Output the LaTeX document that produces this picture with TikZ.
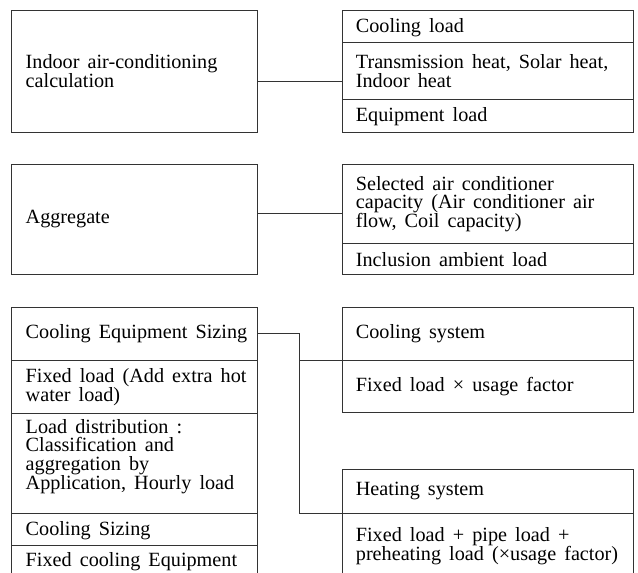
\documentclass[tikz,border=0pt]{standalone}
\usepackage{fontspec}
\setmainfont{Liberation Serif}[WordSpace=1.6]
\begin{document}
\begin{tikzpicture}[x=1pt,y=-1pt,
  conn/.style={draw=black!80, line width=0.9pt},
  box/.style 2 args={draw=black!80, line width=0.9pt, rectangle, anchor=north west,
    minimum width=#1, minimum height=#2, inner sep=0pt},
  txt/.style={anchor=west, inner sep=0pt, align=left, font=\fontsize{20.2}{18.6}\selectfont}]
\useasboundingbox (0,0) rectangle (638,573);
\clip (0,0) rectangle (638,573);
% ---- group 1
\node[box={246.2pt}{121.7pt}] (A) at (10.5,10) {};
\node[txt] (At) at ([xshift=15pt]A.west) {Indoor air-conditioning\\calculation};
\node[box={291pt}{32.3pt}] (r1a) at (341.7,10) {};
\node[txt] (r1at) at ([xshift=14pt,yshift=-1pt]r1a.west) {Cooling load};
\node[box={291pt}{56.7pt}] (r1b) at (341.7,42.3) {};
\node[txt] (r1bt) at ([xshift=14pt]r1b.west) {Transmission heat, Solar heat,\\Indoor heat};
\node[box={291pt}{32.7pt}] (r1c) at (341.7,99) {};
\node[txt] (r1ct) at ([xshift=14pt,yshift=-1pt]r1c.west) {Equipment load};
\coordinate (y1) at (0,81);
\draw[conn] (A.east |- y1) -- (r1b.west |- y1);
% ---- group 2
\node[box={246.2pt}{109.7pt}] (B) at (10.5,164) {};
\node[txt] (Bt) at ([xshift=15pt]B.west) {Aggregate};
\node[box={291pt}{79pt}] (r2a) at (341.7,164) {};
\node[txt] (r2at) at ([xshift=14pt]r2a.west) {Selected air conditioner\\capacity (Air conditioner air\\flow, Coil capacity)};
\node[box={291pt}{30.7pt}] (r2b) at (341.7,243) {};
\node[txt] (r2bt) at ([xshift=14pt,yshift=-1pt]r2b.west) {Inclusion ambient load};
\coordinate (y2) at (0,213.5);
\draw[conn] (B.east |- y2) -- (r2a.west |- y2);
% ---- group 3 left
\node[box={246.2pt}{53.3pt}] (l3a) at (10.5,306.7) {};
\node[txt] (l3at) at ([xshift=15pt]l3a.west) {Cooling Equipment Sizing};
\node[box={246.2pt}{53pt}] (l3b) at (10.5,360) {};
\node[txt] (l3bt) at ([xshift=15pt]l3b.west) {Fixed load (Add extra hot\\water load)};
\node[box={246.2pt}{100pt}] (l3c) at (10.5,413) {};
\node[txt] (l3ct) at ([xshift=15pt,yshift=7pt]l3c.west) {Load distribution :\\Classification and\\aggregation by\\Application, Hourly load};
\node[box={246.2pt}{32pt}] (l3d) at (10.5,513) {};
\node[txt] (l3dt) at ([xshift=15pt,yshift=-1pt]l3d.west) {Cooling Sizing};
\node[box={246.2pt}{33pt}] (l3e) at (10.5,545) {};
\node[txt] (l3et) at ([xshift=15pt]l3e.west) {Fixed cooling Equipment};
% ---- group 3 right
\node[box={291pt}{53.3pt}] (c1) at (341.7,306.7) {};
\node[txt] (c1t) at ([xshift=14pt]c1.west) {Cooling system};
\node[box={291pt}{52pt}] (c2) at (341.7,360) {};
\node[txt] (c2t) at ([xshift=14pt]c2.west) {Fixed load × usage factor};
\node[box={291pt}{44pt}] (h1) at (341.7,469) {};
\node[txt] (h1t) at ([xshift=14pt]h1.west) {Heating system};
\node[box={291pt}{66pt}] (h2) at (341.7,513) {};
\node[txt] (h2t) at ([xshift=14pt]h2.west) {Fixed load + pipe load +\\preheating load (×usage factor)};
% connectors
\coordinate (jx) at (299.3,0);
\draw[conn] (l3a.east) -| (jx |- h1.south west) -- (h1.south west);
\draw[conn] (jx |- c1.south west) -- (c1.south west);
\end{tikzpicture}
\end{document}
